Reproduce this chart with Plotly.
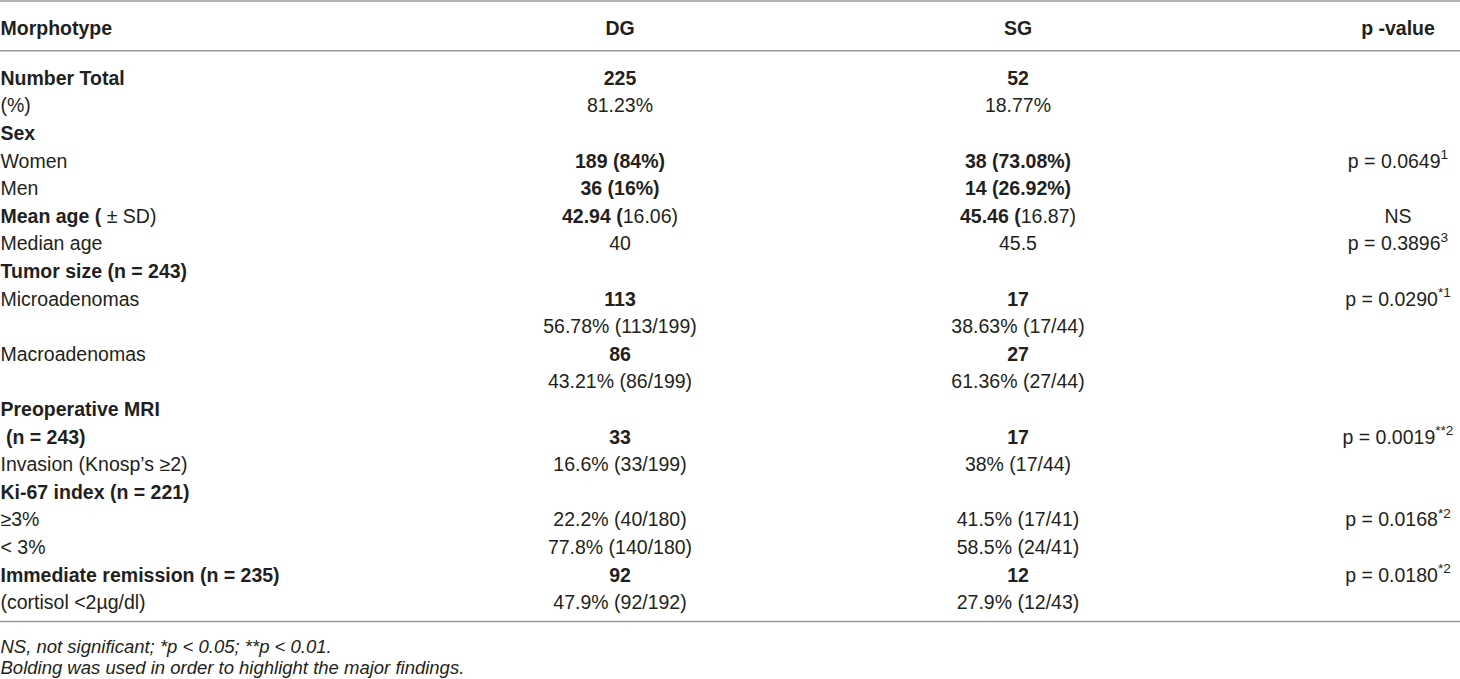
import plotly.graph_objects as go

# table content, one list per column
header = ['<b>Morphotype</b>', '<b>DG</b>', '<b>SG</b>', '<b>p -value</b>']

labels = ['<b>Number Total</b>', '(%)', '<b>Sex</b>', 'Women', 'Men',
          '<b>Mean age (</b> ± SD)', 'Median age', '<b>Tumor size (n = 243)</b>',
          'Microadenomas', '', 'Macroadenomas', '', '<b>Preoperative MRI</b>',
          '<b>\u00a0(n = 243)</b>', 'Invasion (Knosp’s ≥2)', '<b>Ki-67 index (n = 221)</b>',
          '≥3%', '< 3%', '<b>Immediate remission (n = 235)</b>', '(cortisol <2µg/dl)']

dg = ['<b>225</b>', '81.23%', '', '<b>189 (84%)</b>', '<b>36 (16%)</b>',
      '<b>42.94 (</b>16.06)', '40', '', '<b>113</b>', '56.78% (113/199)',
      '<b>86</b>', '43.21% (86/199)', '', '<b>33</b>', '16.6% (33/199)', '',
      '22.2% (40/180)', '77.8% (140/180)', '<b>92</b>', '47.9% (92/192)']

sg = ['<b>52</b>', '18.77%', '', '<b>38 (73.08%)</b>', '<b>14 (26.92%)</b>',
      '<b>45.46 (</b>16.87)', '45.5', '', '<b>17</b>', '38.63% (17/44)',
      '<b>27</b>', '61.36% (27/44)', '', '<b>17</b>', '38% (17/44)', '',
      '41.5% (17/41)', '58.5% (24/41)', '<b>12</b>', '27.9% (12/43)']

pvals = ['', '', '', 'p = 0.0649<sup>1</sup>', '', 'NS', 'p = 0.3896<sup>3</sup>', '',
         'p = 0.0290<sup>*1</sup>', '', '', '', '', 'p = 0.0019<sup>**2</sup>', '', '',
         'p = 0.0168<sup>*2</sup>', '', 'p = 0.0180<sup>*2</sup>', '']

footnotes = ['<i>NS, not significant; *p < 0.05; **p < 0.01.</i>',
             '<i>Bolding was used in order to highlight the major findings.</i>']

W, H = 1460, 679
col_x = [0.5, 620, 1018, 1398]
header_y = 30
row0, pitch = 80, 27.6
row_y = [row0 + i * pitch for i in range(len(labels))]
foot_y = [648, 669]

fnt = dict(family='Liberation Sans, Arial, sans-serif', size=19.5, color='#231f20')


def text_trace(x, ys, texts, pos, font):
    keep = [(y, t) for y, t in zip(ys, texts) if t]
    return go.Scatter(x=[x] * len(keep), y=[k[0] for k in keep], text=[k[1] for k in keep],
                      mode='text', textposition=pos, textfont=font,
                      cliponaxis=False, hoverinfo='skip')


fig = go.Figure()

# header
fig.add_trace(text_trace(col_x[0], [header_y], header[:1], 'middle right', fnt))
for cx, h in zip(col_x[1:], header[1:]):
    fig.add_trace(text_trace(cx, [header_y], [h], 'middle center', fnt))

# body
fig.add_trace(text_trace(col_x[0], row_y, labels, 'middle right', fnt))
for cx, col in zip(col_x[1:], [dg, sg, pvals]):
    fig.add_trace(text_trace(cx, row_y, col, 'middle center', fnt))

# footnotes
fig.add_trace(text_trace(col_x[0], foot_y, footnotes, 'middle right',
                         dict(family=fnt['family'], size=18.5, color='#231f20')))

# rules
for ly in [1, 50.7, 621.5]:
    fig.add_shape(type='line', xref='x', yref='y', x0=0, x1=W, y0=ly, y1=ly,
                  line=dict(color='#9a9a9a', width=1.6))

fig.update_layout(width=W, height=H, margin=dict(l=0, r=0, t=0, b=0),
                  paper_bgcolor='white', plot_bgcolor='white', showlegend=False,
                  xaxis=dict(range=[0, W], visible=False, fixedrange=True),
                  yaxis=dict(range=[H, 0], visible=False, fixedrange=True))

# drop the page's default body margin so the table sits at the window corner
fig.write_html("out.html", post_script="document.body.style.margin='0';",
               config={'displayModeBar': False})
